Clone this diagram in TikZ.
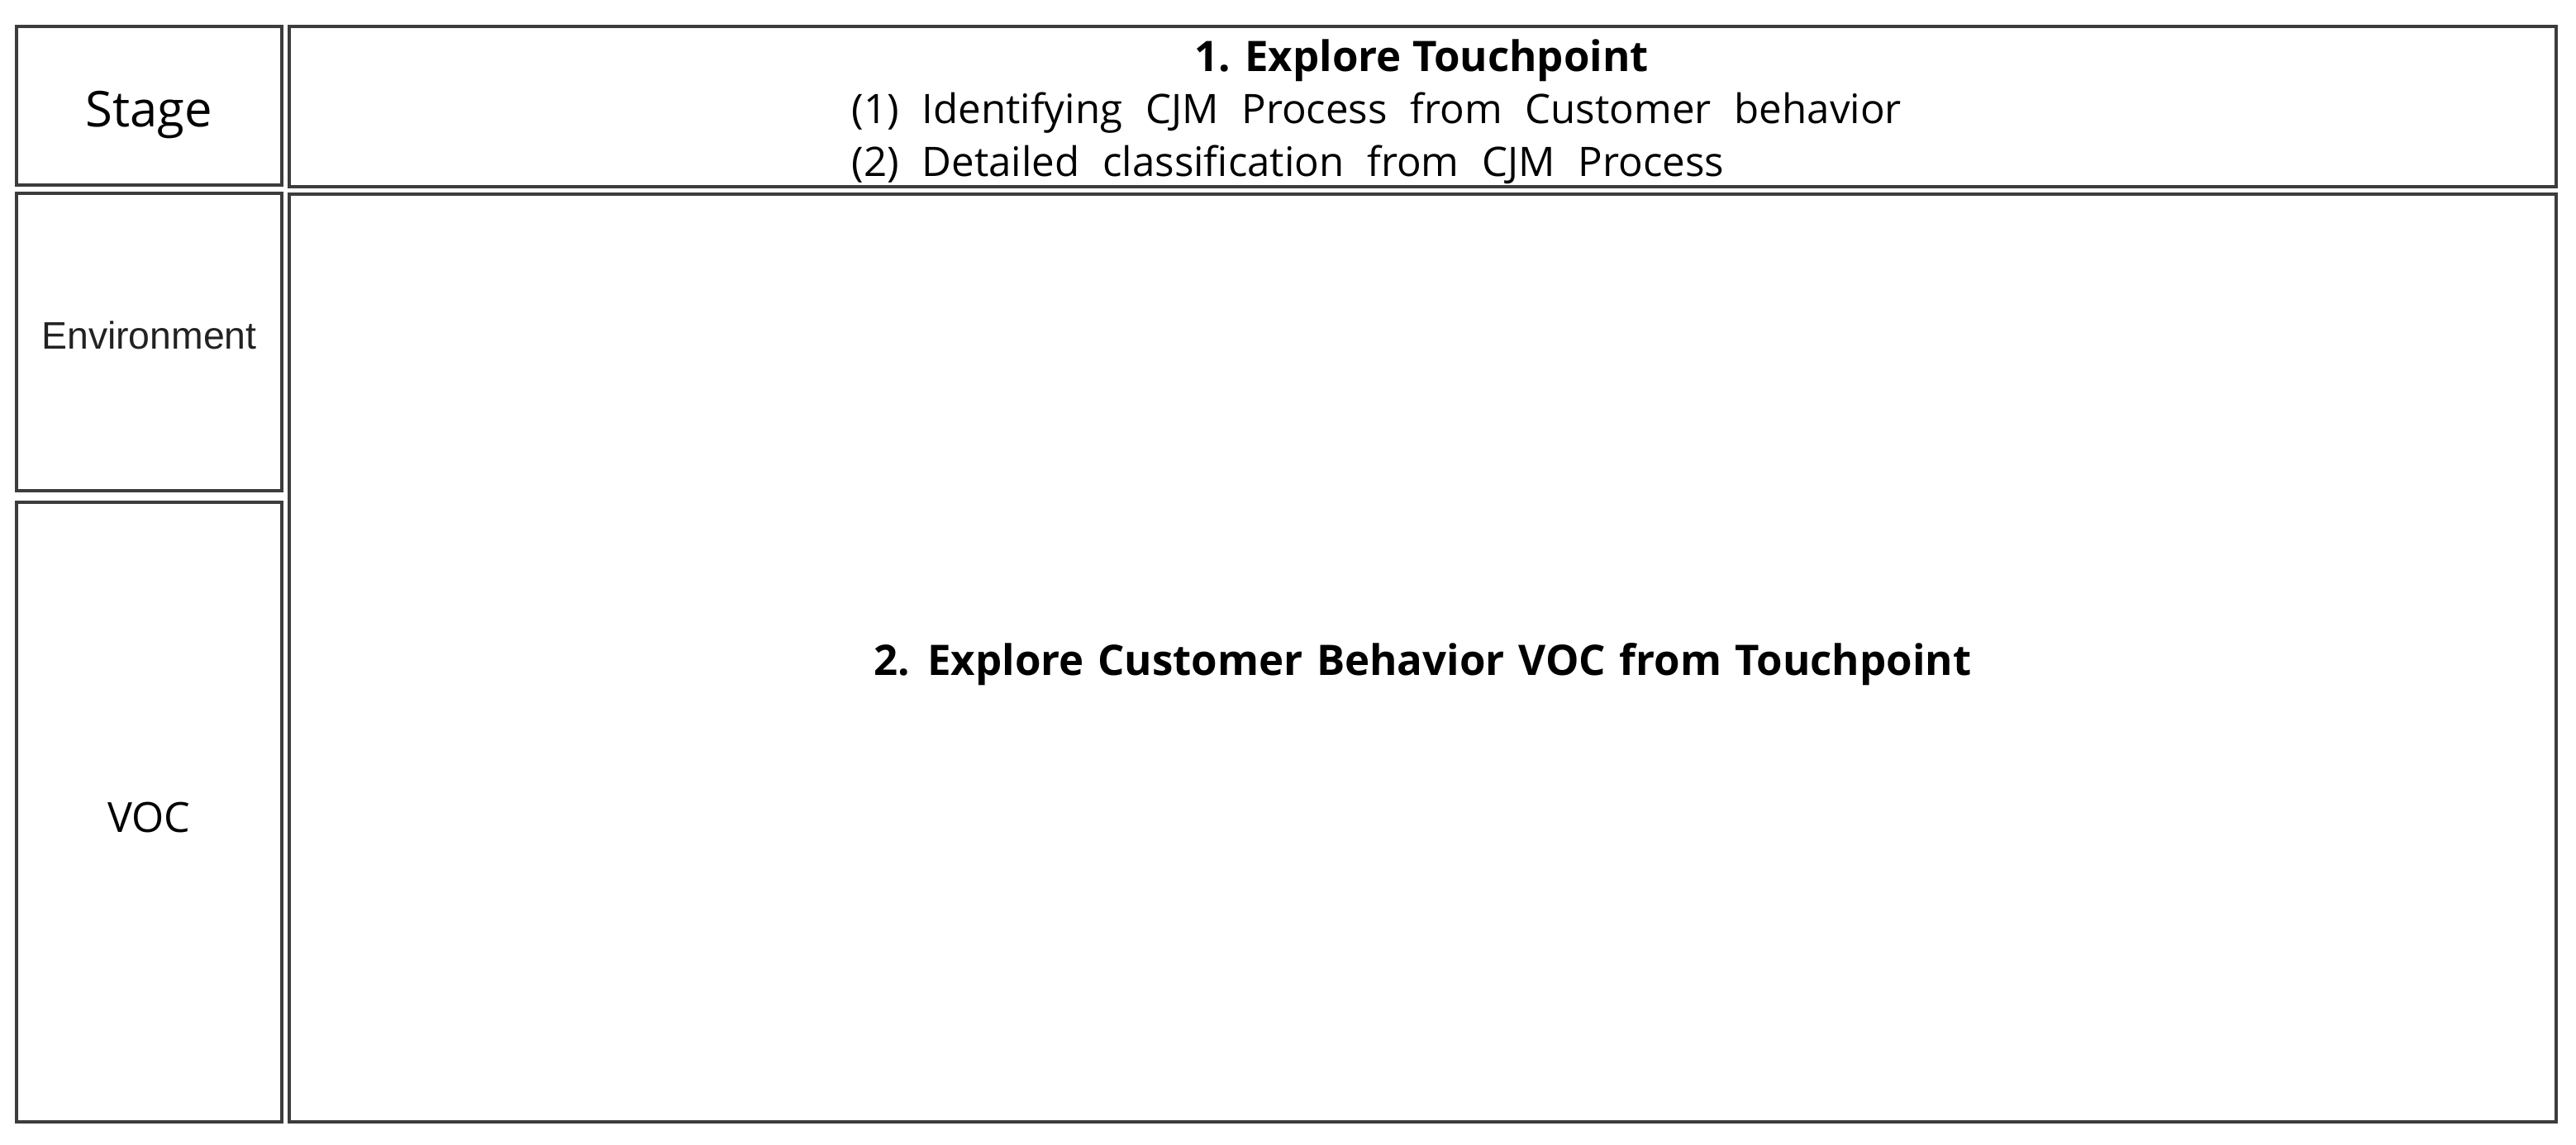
\documentclass[tikz,border=0pt]{standalone}
\usepackage{fontspec}
\setmainfont{Open Sans}
\newfontfamily\arialfont{Liberation Sans}
\usepackage{xcolor}
\usetikzlibrary{positioning}
\definecolor{edge}{HTML}{3C3C3C}
\definecolor{ink}{HTML}{222222}
\newcommand{\wordgap}[1]{\spaceskip=#1\relax}

\begin{document}
\begin{tikzpicture}[font=\fontsize{14}{17}\selectfont,
  cell/.style={draw=edge,line width=0.9pt,rectangle,inner sep=0pt,outer sep=0pt},
  side/.style={cell,minimum width=3.21cm},
  wide/.style={cell,minimum width=27.43cm},
  txt/.style={inner sep=0pt,anchor=base},
]
  \useasboundingbox (0,0) rectangle (31.17,-13.86);

  \node[side,minimum height=1.92cm,font=\fontsize{17}{20}\selectfont,text height=0.51cm,text depth=0pt] (stage) at (1.805,-1.28) {Stage};
  \node[side,minimum height=3.60cm,font=\arialfont\fontsize{13.2}{15}\selectfont,text=ink,text depth=0.16cm] (env) at (1.805,-4.14) {Environment};
  \node[side,minimum height=7.50cm,font=\fontsize{14.3}{16}\selectfont,text height=0.49cm] (voc) at (1.805,-9.83) {VOC};

  \node[wide,minimum height=1.94cm] (head) at (17.215,-1.29) {};
  \node[wide,minimum height=11.23cm] (main) at (17.215,-7.965) {};

  \node[txt,font=\bfseries\fontsize{14.5}{17}\selectfont] (title) at (17.20,-0.87) {1. Explore Touchpoint};
  \node[txt,anchor=base west] (step1) at (10.30,-1.50) {\wordgap{7.9pt}(1) Identifying CJM Process from Customer behavior};
  \node[txt,anchor=base west] (step2) at (10.30,-2.14) {\wordgap{7.9pt}(2) Detailed classification from CJM Process};

  \node[font=\bfseries\fontsize{14.5}{17}\selectfont] (voctxt) at ([yshift=-0.08cm]main.center) {\wordgap{4.7pt}2. Explore Customer Behavior VOC from Touchpoint};
\end{tikzpicture}
\end{document}
